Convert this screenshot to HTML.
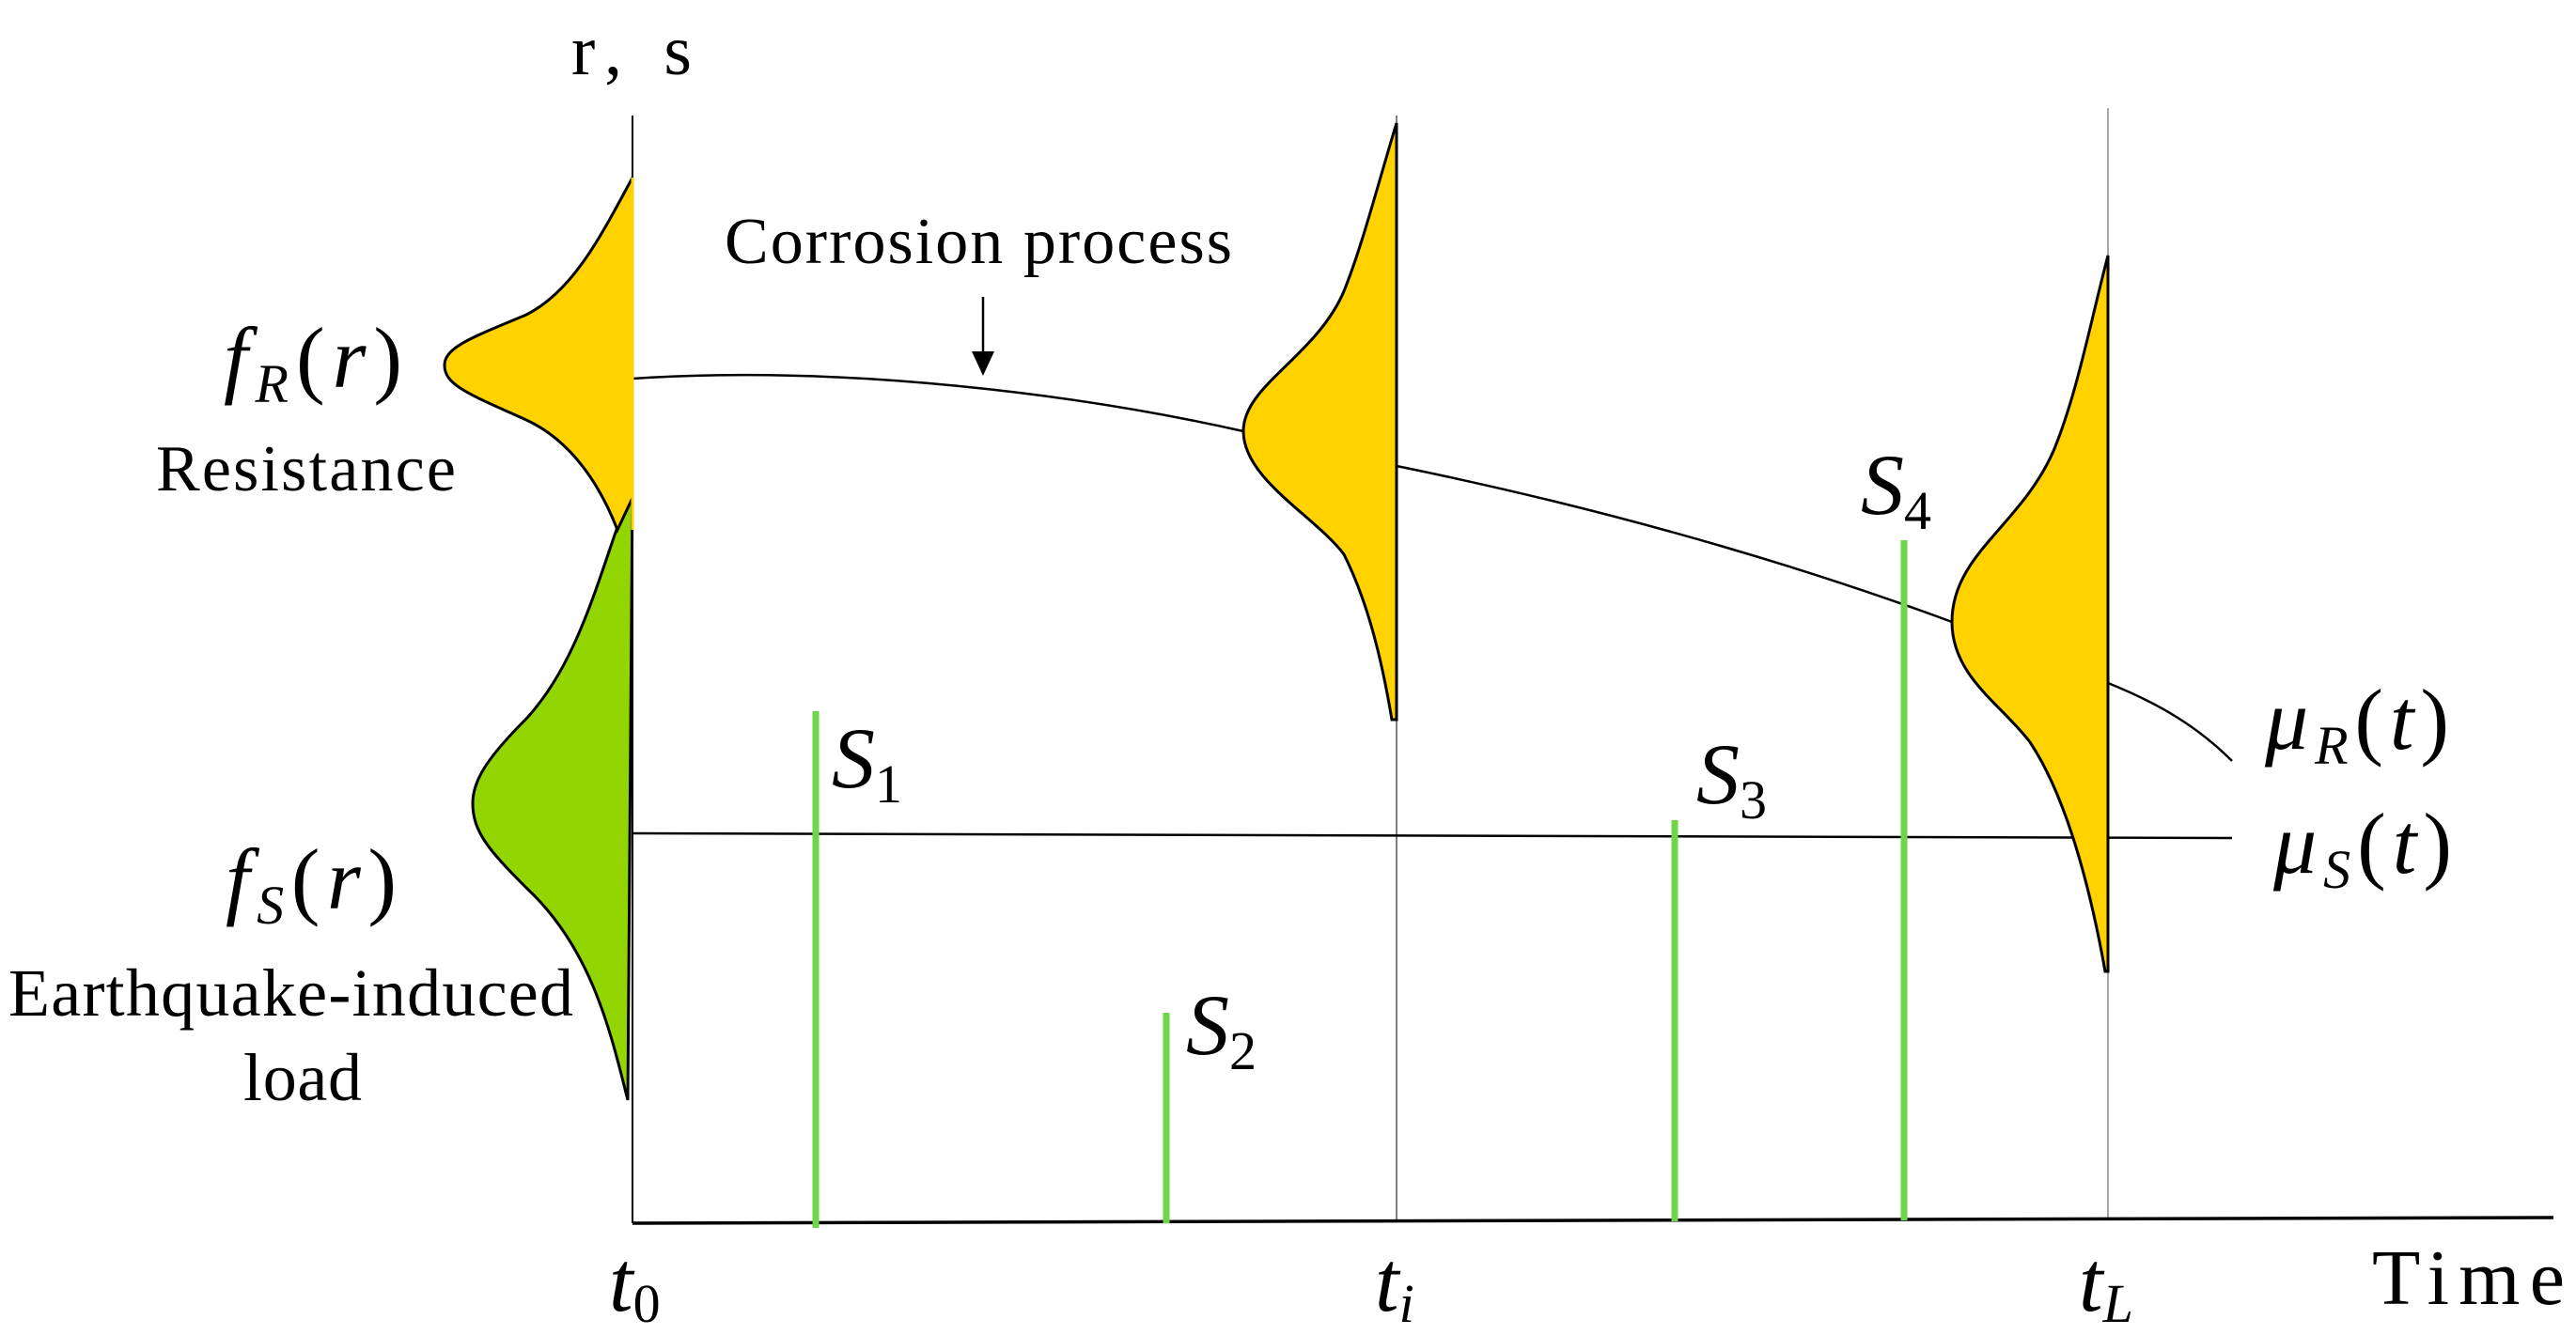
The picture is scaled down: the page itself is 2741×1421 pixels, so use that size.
<!DOCTYPE html>
<html><head><meta charset="utf-8"><style>body{margin:0;background:#fff}svg{display:block}</style></head><body>
<svg width="2741" height="1421" viewBox="0 0 2741 1421" xmlns="http://www.w3.org/2000/svg" font-family="Liberation Serif, serif">
<rect width="2741" height="1421" fill="#fff"/>
<line x1="673" y1="123" x2="673" y2="1302" stroke="#000" stroke-width="2"/>
<line x1="1486" y1="123" x2="1486" y2="1300" stroke="#555" stroke-width="1.5"/>
<line x1="2243" y1="115" x2="2243" y2="1298" stroke="#888" stroke-width="1.5"/>
<line x1="673" y1="1302" x2="2717" y2="1296" stroke="#000" stroke-width="3.5"/>
<line x1="673" y1="887" x2="2375" y2="892" stroke="#000" stroke-width="2.5"/>
<path d="M673,403 C900,388 1150,420 1323,459 L1486,496 C1750,550 1950,615 2077,662 L2243,727 C2300,750 2340,775 2375,810" fill="none" stroke="#000" stroke-width="2.5"/>
<path d="M673,517 C640,600 620,700 560,765 C520,805 503,830 503,855 C503,885 520,905 560,945 C630,1010 650,1100 668,1171 Z" fill="#93d500" stroke="#000" stroke-width="3"/>
<path d="M673,189 C640,250 610,310 560,335 C500,360 473,370 473,389 C473,410 500,420 560,447 C610,470 640,520 657,564 L673,530 Z" fill="#ffd200" stroke="#000" stroke-width="3"/>
<line x1="673" y1="189" x2="673" y2="564" stroke="#ffd200" stroke-width="3"/>
<path d="M1486,131 C1465,200 1450,260 1430,310 C1400,380 1323,410 1323,459 C1323,510 1400,550 1430,590 C1455,640 1470,700 1481,766 L1486,766 Z" fill="#ffd200" stroke="#000" stroke-width="3"/>
<path d="M2243,272 C2225,340 2210,420 2185,480 C2150,560 2077,590 2077,662 C2077,720 2130,750 2160,790 C2200,850 2225,950 2240,1034 L2243,1034 Z" fill="#ffd200" stroke="#000" stroke-width="3"/>
<g stroke="#6fd64a" stroke-width="7">
<line x1="868" y1="757" x2="868" y2="1307"/>
<line x1="1241" y1="1078" x2="1241" y2="1302"/>
<line x1="1782" y1="873" x2="1782" y2="1300"/>
<line x1="2026" y1="575" x2="2026" y2="1299"/>
</g>
<line x1="1046" y1="316" x2="1046" y2="380" stroke="#000" stroke-width="2.5"/>
<path d="M1034,374 L1058,374 L1046,400 Z" fill="#000"/>
<text x="608" y="79" font-size="76" textLength="128">r,  s</text>
<text x="771" y="280" font-size="70" textLength="540">Corrosion process</text>
<text x="166" y="522" font-size="70" textLength="319">Resistance</text>
<text x="9" y="1081" font-size="72" textLength="601">Earthquake-induced</text>
<text x="259" y="1171" font-size="72" textLength="126">load</text>
<g font-size="92" font-style="italic">
<text x="238" y="412" textLength="190">f<tspan font-size="58" dy="16">R</tspan><tspan dy="-16" font-style="normal">(</tspan>r<tspan font-style="normal">)</tspan></text>
<text x="240" y="967" textLength="182">f<tspan font-size="58" dy="16">S</tspan><tspan dy="-16" font-style="normal">(</tspan>r<tspan font-style="normal">)</tspan></text>
<text x="885" y="838">S<tspan font-style="normal" font-size="58" dy="16">1</tspan></text>
<text x="1262" y="1122">S<tspan font-style="normal" font-size="58" dy="16">2</tspan></text>
<text x="1805" y="855">S<tspan font-style="normal" font-size="58" dy="16">3</tspan></text>
<text x="1980" y="547">S<tspan font-style="normal" font-size="58" dy="16">4</tspan></text>
<text x="2410" y="797" textLength="196">μ<tspan font-size="58" dy="16">R</tspan><tspan dy="-16" font-style="normal">(</tspan>t<tspan font-style="normal">)</tspan></text>
<text x="2419" y="929" textLength="190">μ<tspan font-size="58" dy="16">S</tspan><tspan dy="-16" font-style="normal">(</tspan>t<tspan font-style="normal">)</tspan></text>
<text x="648" y="1395">t<tspan font-style="normal" font-size="58" dy="12">0</tspan></text>
<text x="1463" y="1395">t<tspan font-size="58" dy="12">i</tspan></text>
<text x="2212" y="1395">t<tspan font-size="58" dy="12">L</tspan></text>
</g>
<text x="2524" y="1388" font-size="84" textLength="205">Time</text>
</svg>
</body></html>
